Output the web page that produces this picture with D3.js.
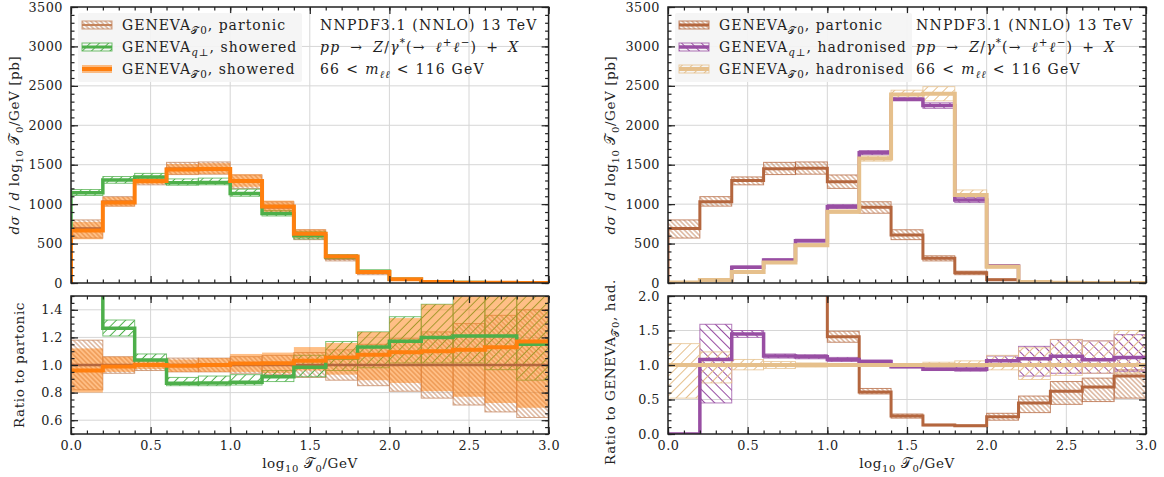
<!DOCTYPE html>
<html>
<head>
<meta charset="utf-8">
<script src="https://cdn.jsdelivr.net/npm/d3@7"></script>
<style>
  body { margin: 0; background: #fff; }
  text { font-family: "DejaVu Serif", serif; fill: #222; }
  .lbl { font-size: 14px; letter-spacing: 1.2px; }
  .leg { font-size: 14px; letter-spacing: 1px; }
  .ttl { font-size: 13.5px; letter-spacing: 0.6px; }
</style>
</head>
<body>
<svg id="chart" width="1164" height="477"></svg>
<script>
// bins in log10(T0/GeV)
const binEdges = [0.0, 0.2, 0.4, 0.6, 0.8, 1.0, 1.2, 1.4, 1.6, 1.8, 2.0, 2.2, 2.4, 2.6, 2.8, 3.0];
const xTicks = [0.0, 0.5, 1.0, 1.5, 2.0, 2.5, 3.0];
const mainTicks = [0, 500, 1000, 1500, 2000, 2500, 3000, 3500];
const ratioTicksLeft = [0.6, 0.8, 1.0, 1.2, 1.4];
const ratioTicksRight = [0.0, 0.5, 1.0, 1.5, 2.0];

// main panels, dsigma/dlog10 T0 [pb], each bin [lo, central, hi]
const partonicT0 = [[570, 690, 800], [975, 1030, 1095], [1245, 1300, 1345], [1375, 1450, 1530], [1380, 1455, 1535],
  [1200, 1285, 1370], [885, 960, 1030], [550, 610, 675], [280, 315, 345], [105, 130, 150],
  [34, 42, 50], [9, 12, 15], [3, 4, 5], [1, 1.5, 2], [0.3, 0.5, 0.7]];
const showeredQT = [[1110, 1145, 1185], [1265, 1305, 1350], [1305, 1345, 1390], [1240, 1270, 1320], [1245, 1275, 1330],
  [1100, 1135, 1190], [850, 880, 920], [560, 600, 650], [305, 330, 360], [135, 148, 162],
  [43, 49, 56], [12, 14, 17], [4, 5, 6], [1.5, 2, 2.5], [0.5, 0.6, 0.8]];
const showeredT0 = [[555, 665, 775], [970, 1020, 1090], [1255, 1295, 1345], [1375, 1440, 1510], [1380, 1445, 1520],
  [1220, 1295, 1380], [900, 970, 1045], [570, 625, 680], [300, 335, 365], [120, 140, 160],
  [37, 46, 56], [10, 13, 17], [3.5, 4.5, 6], [1.2, 1.7, 2.3], [0.4, 0.6, 0.8]];
const hadronisedQT = [[0, 2, 5], [35, 42, 50], [185, 199, 215], [280, 292, 305], [520, 537, 555],
  [945, 968, 995], [1625, 1653, 1680], [2310, 2329, 2350], [2215, 2250, 2285], [1020, 1052, 1085],
  [205, 215, 225], [14, 16, 19], [4, 4.5, 5], [1.2, 1.5, 1.8], [0.4, 0.5, 0.6]];
const hadronisedT0 = [[3, 5, 7], [30, 38, 46], [130, 140, 152], [247, 260, 273], [465, 480, 496],
  [885, 905, 925], [1545, 1578, 1610], [2340, 2390, 2445], [2310, 2400, 2490], [1050, 1116, 1180],
  [192, 207, 232], [11, 14, 18], [3.3, 4, 5], [1.1, 1.3, 1.7], [0.4, 0.45, 0.6]];

// left ratio panel: ratio to partonic
const ratioPartonic = [[0.82, 1, 1.18], [0.94, 1, 1.06], [0.96, 1, 1.04], [0.95, 1, 1.05], [0.95, 1, 1.05],
  [0.94, 1, 1.06], [0.93, 1, 1.07], [0.91, 1, 1.09], [0.89, 1, 1.11], [0.85, 1, 1.15],
  [0.81, 1, 1.19], [0.76, 1, 1.24], [0.71, 1, 1.30], [0.66, 1, 1.36], [0.62, 1, 1.40]];
const ratioShoweredQT = [[1.58, 1.64, 1.70], [1.21, 1.266, 1.326], [1.0, 1.036, 1.08], [0.85, 0.867, 0.91], [0.85, 0.87, 0.92],
  [0.855, 0.875, 0.93], [0.88, 0.915, 0.96], [0.915, 0.983, 1.07], [0.96, 1.05, 1.17], [0.98, 1.13, 1.24],
  [1.015, 1.172, 1.35], [1.015, 1.20, 1.44], [1.015, 1.21, 1.6], [0.966, 1.21, 1.6], [0.89, 1.15, 1.55]];
const ratioShoweredT0 = [[0.80, 0.96, 1.12], [0.95, 0.99, 1.06], [0.97, 1.0, 1.04], [0.95, 0.995, 1.04], [0.95, 1.0, 1.05],
  [0.95, 1.01, 1.08], [0.94, 1.013, 1.09], [0.96, 1.03, 1.13], [0.93, 1.055, 1.16], [0.89, 1.075, 1.24],
  [0.87, 1.092, 1.34], [0.81, 1.10, 1.44], [0.77, 1.11, 1.55], [0.725, 1.128, 1.6], [0.69, 1.17, 1.65]];

// right ratio panel: ratio to GENEVA T0 hadronised
const ratioHadPartonic = [[120, 130, 140], [25, 27, 29], [8.8, 9.3, 9.8], [5.3, 5.6, 5.9], [2.85, 3.0, 3.15],
  [1.33, 1.41, 1.49], [0.58, 0.61, 0.66], [0.23, 0.26, 0.29], [0.12, 0.13, 0.14], [0.11, 0.12, 0.13],
  [0.20, 0.25, 0.30], [0.31, 0.45, 0.55], [0.43, 0.62, 0.76], [0.47, 0.68, 0.81], [0.52, 0.84, 0.93]];
const ratioHadQT = [[0, 0, 0], [0.45, 1.08, 1.59], [1.40, 1.45, 1.50], [1.10, 1.13, 1.16], [1.09, 1.12, 1.15],
  [1.05, 1.08, 1.11], [1.03, 1.05, 1.07], [0.96, 0.975, 0.99], [0.92, 0.94, 0.96], [0.91, 0.94, 0.97],
  [1.0, 1.06, 1.13], [0.84, 1.09, 1.27], [0.88, 1.126, 1.37], [0.88, 1.077, 1.35], [0.91, 1.11, 1.44]];
const ratioHadT0 = [[0.52, 1, 1.31], [0.74, 1, 1.19], [0.93, 1, 1.08], [0.95, 1, 1.05], [0.97, 1, 1.03],
  [0.98, 1, 1.02], [0.98, 1, 1.02], [0.98, 1, 1.02], [0.96, 1, 1.04], [0.95, 1, 1.06],
  [0.93, 1, 1.14], [0.79, 1, 1.25], [0.85, 1, 1.37], [0.88, 1, 1.35], [0.88, 1, 1.50]];

const C = {
  orange: "#ff7f0e", green: "#4daf4a", brown: "#b4663e", brownHatch: "#c4845c",
  purple: "#984ea3", tan: "#e6c08c"
};
const FS = 14;      // legend / annotation text
const TFS = 13.5;   // axis titles
const TICK_FS = 12.8;

const svg = d3.select("#chart");
const defs = svg.append("defs");

function hatch(id, color, spacing, angle, width) {
  const p = defs.append("pattern").attr("id", id)
    .attr("patternUnits", "userSpaceOnUse")
    .attr("width", spacing).attr("height", spacing)
    .attr("patternTransform", `rotate(${angle})`);
  p.append("line").attr("x1", spacing / 2).attr("x2", spacing / 2)
    .attr("y1", 0).attr("y2", spacing)
    .attr("stroke", color).attr("stroke-width", width);
}
hatch("h-partonic", C.brownHatch, 3.4, -45, 0.9);
hatch("h-green", C.green, 6.5, 45, 1);
hatch("h-purple", C.purple, 7, -45, 1);
hatch("h-tan", C.tan, 7, 45, 1);

// rich text with italics / sub / superscripts; third item = extra dx
function rich(t, parts, size) {
  let shift = 0;
  parts.forEach(([s, k = "", dx = 0]) => {
    const ts = t.append("tspan").text(s);
    const target = k.includes("sub") ? size * 0.3 : k.includes("sup") ? -size * 0.4 : 0;
    if (target - shift !== 0) ts.attr("dy", target - shift);
    if (dx) ts.attr("dx", dx);
    shift = target;
    if (target !== 0) ts.attr("font-size", size * 0.74);
    if (k.includes("it")) ts.attr("font-style", "italic");
  });
  return t;
}

let clipN = 0;
function plotArea(x0, x1, yRange, yDomain, yMajor, yMinor, fmt, showXLabels) {
  const xs = d3.scaleLinear().domain([0, 3]).range([x0, x1]);
  const ys = d3.scaleLinear().domain(yDomain).range(yRange);
  const g = svg.append("g");
  const top = yRange[1], bot = yRange[0];

  // grid
  g.append("g").selectAll("line").data(xTicks.slice(1, -1)).join("line")
    .attr("x1", d => xs(d)).attr("x2", d => xs(d)).attr("y1", top).attr("y2", bot)
    .attr("stroke", "#d6d6d6").attr("stroke-width", 1);
  g.append("g").selectAll("line").data(yMajor.filter(d => d > yDomain[0] && d < yDomain[1])).join("line")
    .attr("x1", x0).attr("x2", x1).attr("y1", d => ys(d)).attr("y2", d => ys(d))
    .attr("stroke", "#d6d6d6").attr("stroke-width", 1);

  const id = "clip" + (clipN++);
  defs.append("clipPath").attr("id", id).append("rect")
    .attr("x", x0).attr("y", top).attr("width", x1 - x0).attr("height", bot - top);
  const plot = svg.append("g").attr("clip-path", `url(#${id})`);
  const axes = svg.append("g");

  const xMinor = d3.range(0, 3.001, 0.1);
  const style = sel => {
    sel.select(".domain").remove();
    sel.selectAll("line").attr("stroke", "#222").attr("stroke-width", 1.2);
    sel.selectAll("text").attr("font-family", "DejaVu Serif").attr("font-size", TICK_FS)
      .attr("letter-spacing", 0.5).attr("fill", "#222");
  };
  axes.append("g").attr("transform", `translate(0,${bot})`)
    .call(d3.axisBottom(xs).tickValues(xMinor).tickSize(-3.5).tickFormat("")).call(style);
  axes.append("g").attr("transform", `translate(0,${bot})`)
    .call(d3.axisBottom(xs).tickValues(xTicks).tickSize(-7).tickPadding(7)
      .tickFormat(showXLabels ? d3.format(".1f") : "")).call(style);
  axes.append("g").attr("transform", `translate(0,${top})`)
    .call(d3.axisTop(xs).tickValues(xMinor).tickSize(-3.5).tickFormat("")).call(style);
  axes.append("g").attr("transform", `translate(0,${top})`)
    .call(d3.axisTop(xs).tickValues(xTicks).tickSize(-7).tickFormat("")).call(style);
  axes.append("g").attr("transform", `translate(${x0},0)`)
    .call(d3.axisLeft(ys).tickValues(yMinor).tickSize(-3.5).tickFormat("")).call(style);
  axes.append("g").attr("transform", `translate(${x0},0)`)
    .call(d3.axisLeft(ys).tickValues(yMajor).tickSize(-7).tickPadding(8).tickFormat(fmt)).call(style);
  axes.append("g").attr("transform", `translate(${x1},0)`)
    .call(d3.axisRight(ys).tickValues(yMinor).tickSize(-3.5).tickFormat("")).call(style);
  axes.append("g").attr("transform", `translate(${x1},0)`)
    .call(d3.axisRight(ys).tickValues(yMajor).tickSize(-7).tickFormat("")).call(style);
  axes.append("rect").attr("x", x0).attr("y", top).attr("width", x1 - x0).attr("height", bot - top)
    .attr("fill", "none").attr("stroke", "#222").attr("stroke-width", 1.5);

  return { xs, ys, plot };
}

function band(area, data, fill, stroke, opacity) {
  area.plot.append("g").selectAll("rect").data(data).join("rect")
    .attr("x", (d, i) => area.xs(binEdges[i]))
    .attr("width", (d, i) => area.xs(binEdges[i + 1]) - area.xs(binEdges[i]))
    .attr("y", d => area.ys(d[2]))
    .attr("height", d => area.ys(d[0]) - area.ys(d[2]))
    .attr("fill", fill)
    .attr("fill-opacity", opacity)
    .attr("stroke", stroke || "none")
    .attr("stroke-opacity", 0.75)
    .attr("stroke-width", 1);
}

function stepLine(area, data, color, width, fromZero) {
  const pts = data.map((d, i) => [binEdges[i], d[1]]);
  pts.push([3.0, data[data.length - 1][1]]);
  if (fromZero) pts.unshift([0, 0]);
  area.plot.append("path")
    .attr("d", d3.line().x(d => area.xs(d[0])).y(d => area.ys(d[1])).curve(d3.curveStepAfter)(pts))
    .attr("fill", "none").attr("stroke", color).attr("stroke-width", width)
    .attr("stroke-linejoin", "miter");
}

const mainRange = [283, 7], ratioRange = [434, 296];
const mainMinor = d3.range(0, 3501, 100);

// ---------- left panel ----------
const lm = plotArea(71, 548.6, mainRange, [0, 3500], mainTicks, mainMinor, d3.format("d"), false);
band(lm, partonicT0, "url(#h-partonic)", C.brownHatch, 1);
band(lm, showeredQT, "url(#h-green)", C.green, 1);
band(lm, showeredT0, C.orange, null, 0.5);
stepLine(lm, partonicT0, C.brown, 2.5, true);
stepLine(lm, showeredQT, C.green, 3.5, true);
stepLine(lm, showeredT0, C.orange, 4, true);

const lr = plotArea(71, 548.6, ratioRange, [0.5, 1.5], ratioTicksLeft, d3.range(0.5, 1.5001, 0.05), d3.format(".1f"), true);
band(lr, ratioPartonic, "url(#h-partonic)", C.brownHatch, 1);
band(lr, ratioShoweredQT, "url(#h-green)", C.green, 1);
band(lr, ratioShoweredT0, C.orange, null, 0.5);
stepLine(lr, ratioPartonic, C.brown, 2.5, false);
stepLine(lr, ratioShoweredQT, C.green, 3.5, false);
stepLine(lr, ratioShoweredT0, C.orange, 4, false);

// ---------- right panel ----------
const rm = plotArea(668, 1146, mainRange, [0, 3500], mainTicks, mainMinor, d3.format("d"), false);
band(rm, partonicT0, "url(#h-partonic)", C.brown, 1);
band(rm, hadronisedQT, "url(#h-purple)", C.purple, 1);
band(rm, hadronisedT0, "url(#h-tan)", C.tan, 1);
stepLine(rm, partonicT0, C.brown, 3, true);
stepLine(rm, hadronisedQT, C.purple, 3.5, true);
stepLine(rm, hadronisedT0, C.tan, 4, true);

const rr = plotArea(668, 1146, ratioRange, [0, 2], ratioTicksRight, d3.range(0, 2.001, 0.1), d3.format(".1f"), true);
band(rr, ratioHadPartonic, "url(#h-partonic)", C.brown, 1);
band(rr, ratioHadQT, "url(#h-purple)", C.purple, 1);
band(rr, ratioHadT0, "url(#h-tan)", C.tan, 1);
stepLine(rr, ratioHadPartonic, C.brown, 3, false);
stepLine(rr, ratioHadQT, C.purple, 3.5, false);
stepLine(rr, ratioHadT0, C.tan, 4, false);

// ---------- legends ----------
function legend(x, y, w, entries) {
  const g = svg.append("g");
  g.append("rect").attr("x", x).attr("y", y).attr("width", w).attr("height", 69)
    .attr("rx", 2).attr("fill", "#f4f4f4").attr("fill-opacity", 0.92);
  entries.forEach((e, i) => {
    const cy = y + 12 + i * 22;
    g.append("rect").attr("x", x + 4).attr("y", cy - 4).attr("width", 30).attr("height", 8)
      .attr("fill", e.fill).attr("fill-opacity", e.opacity)
      .attr("stroke", e.stroke || "none").attr("stroke-opacity", 0.8).attr("stroke-width", 1);
    g.append("line").attr("x1", x + 4).attr("x2", x + 34).attr("y1", cy).attr("y2", cy)
      .attr("stroke", e.color).attr("stroke-width", e.width);
    rich(g.append("text").attr("class", "leg").attr("x", x + 44).attr("y", cy + 4.5), e.label, FS);
  });
}
legend(78, 13, 224, [
  { fill: "url(#h-partonic)", opacity: 1, stroke: C.brownHatch, color: C.brownHatch, width: 2,
    label: [["GENEVA"], ["𝒯", "sub"], ["0", "sub"], [", partonic"]] },
  { fill: "url(#h-green)", opacity: 1, stroke: C.green, color: C.green, width: 3,
    label: [["GENEVA"], ["q", "sub it"], ["⊥", "sub"], [", showered"]] },
  { fill: C.orange, opacity: 0.5, stroke: null, color: C.orange, width: 4,
    label: [["GENEVA"], ["𝒯", "sub"], ["0", "sub"], [", showered"]] }
]);
legend(675, 13, 237, [
  { fill: "url(#h-partonic)", opacity: 1, stroke: C.brown, color: C.brown, width: 3,
    label: [["GENEVA"], ["𝒯", "sub"], ["0", "sub"], [", partonic"]] },
  { fill: "url(#h-purple)", opacity: 1, stroke: C.purple, color: C.purple, width: 3.5,
    label: [["GENEVA"], ["q", "sub it"], ["⊥", "sub"], [", hadronised"]] },
  { fill: "url(#h-tan)", opacity: 1, stroke: C.tan, color: C.tan, width: 4,
    label: [["GENEVA"], ["𝒯", "sub"], ["0", "sub"], [", hadronised"]] }
]);

// ---------- process text ----------
function procText(x) {
  const g = svg.append("g");
  g.append("text").attr("class", "lbl").attr("x", x).attr("y", 29.5).text("NNPDF3.1 (NNLO) 13 TeV");
  rich(g.append("text").attr("class", "lbl").attr("x", x).attr("y", 51.5),
    [["pp", "it"], ["→", "", 10], ["Z", "it", 10], ["/"], ["γ", "it"], ["*", "sup"], ["(→"], ["ℓ", "it", 10], ["+", "sup"],
     ["ℓ", "it", 1], ["−", "sup"], [")"], ["+", "", 9], ["X", "it", 9]], FS);
  rich(g.append("text").attr("class", "lbl").attr("x", x).attr("y", 73.5),
    [["66"], ["<", "", 6], ["m", "it", 6], ["ℓℓ", "sub it"], ["<", "", 6], ["116 GeV", "", 6]], FS);
}
procText(320);
procText(916);

// ---------- axis titles ----------
function yTitle(x, y, parts) {
  rich(svg.append("text").attr("class", "ttl").attr("transform", `translate(${x},${y}) rotate(-90)`)
    .attr("text-anchor", "middle"), parts, TFS);
}
const mainTitle = [["dσ", "it"], [" / "], ["d", "it"], [" log"], ["10", "sub"], [" 𝒯"], ["0", "sub"], ["/GeV [pb]"]];
yTitle(19, 145, mainTitle);
yTitle(615, 145, mainTitle);
yTitle(24, 365, [["Ratio to partonic"]]);
yTitle(615, 372, [["Ratio to GENEVA"], ["𝒯", "sub"], ["0", "sub"], [", had."]]);

function xTitle(x) {
  rich(svg.append("text").attr("class", "ttl").attr("x", x).attr("y", 468).attr("text-anchor", "middle")
    .attr("letter-spacing", 1), [["log"], ["10", "sub"], [" 𝒯"], ["0", "sub"], ["/GeV"]], TFS);
}
xTitle(310);
xTitle(907);
</script>
</body>
</html>
